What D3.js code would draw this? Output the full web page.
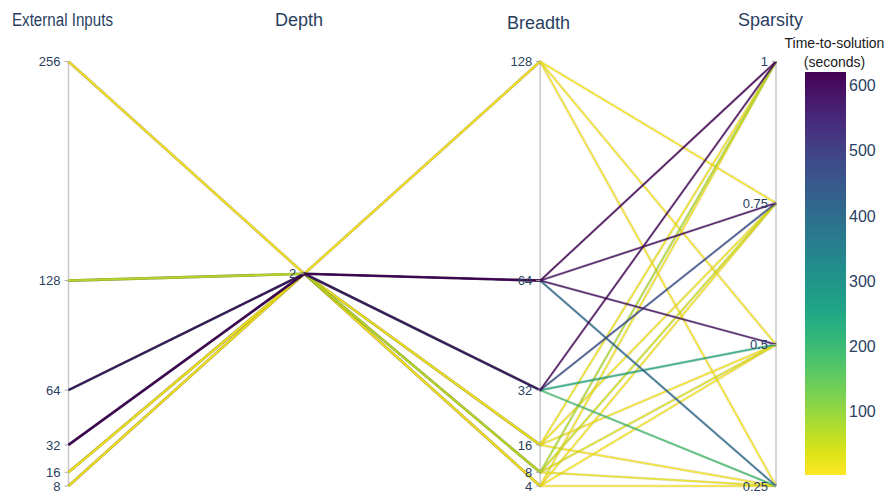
<!DOCTYPE html>
<html>
<head>
<meta charset="utf-8">
<script src="https://cdn.jsdelivr.net/npm/d3@7"></script>
<style>
  html, body { margin: 0; padding: 0; background: #fff; }
  svg { display: block; font-family: "Liberation Sans", Arial, sans-serif; }
</style>
</head>
<body>
<svg id="chart" width="893" height="496"></svg>
<script>
// One row per run: inputs, network shape, sparsity and measured runtime
const extInputs      = [256, 256, 256, 32, 32, 32, 32, 64, 64, 64, 64, 16, 16, 16, 16, 128, 128, 128, 128, 8, 8, 8, 8];
const depth          = [2, 2, 2, 2, 2, 2, 2, 2, 2, 2, 2, 2, 2, 2, 2, 2, 2, 2, 2, 2, 2, 2, 2];
const breadth        = [128, 128, 128, 64, 64, 64, 64, 32, 32, 32, 32, 16, 16, 16, 16, 8, 8, 8, 8, 4, 4, 4, 4];
const sparsity       = [0.75, 0.5, 0.25, 1, 0.75, 0.5, 0.25, 1, 0.75, 0.5, 0.25, 1, 0.75, 0.5, 0.25, 1, 0.75, 0.5, 0.25, 1, 0.75, 0.5, 0.25];
const timeToSolution = [6, 4, 3, 621, 598, 585, 405, 610, 470, 235, 185, 12, 9, 7, 5, 75, 45, 30, 20, 8, 5, 3, 1.5];

// Axis titles and tick labels
const dimTitles     = ["External Inputs", "Depth", "Breadth", "Sparsity"];
const extTicks      = [8, 16, 32, 64, 128, 256];
const depthTicks    = [2];
const breadthTicks  = [4, 8, 16, 32, 64, 128];
const sparsityTicks = [0.25, 0.5, 0.75, 1];
const colorTicks    = [100, 200, 300, 400, 500, 600];
const colorTitle    = ["Time-to-solution", "(seconds)"];

const dimValues = [extInputs, depth, breadth, sparsity];
const dimTicks  = [extTicks, depthTicks, breadthTicks, sparsityTicks];
const titleCenters = [62.5, 299, 538.5, 770.5];
const titleBaselines = [26, 26, 29, 26];

const svg = d3.select("#chart");
const yTop = 61.5, yBottom = 486;
const tickColor = "#2a3f5f";

const x = d3.scalePoint().domain(d3.range(dimTitles.length)).range([68.5, 776]);

const yScales = dimValues.map(vals => {
  let [lo, hi] = d3.extent(vals);
  if (lo === hi) { lo -= 1; hi += 1; }
  return d3.scaleLinear().domain([lo, hi]).range([yBottom, yTop]);
});

const cExtent = d3.extent(timeToSolution);
const cmin = cExtent[0], cmax = cExtent[1];
const color = v => d3.interpolateViridis(1 - (v - cmin) / (cmax - cmin));

// Axis lines (a single-valued dimension gets no line)
dimTitles.forEach((t, i) => {
  const single = d3.min(dimValues[i]) === d3.max(dimValues[i]);
  if (!single) {
    svg.append("line")
      .attr("x1", x(i)).attr("x2", x(i))
      .attr("y1", yTop).attr("y2", yBottom)
      .attr("stroke", "#c8c8c8").attr("stroke-width", 1.5);
  }
});

// Polylines, low runtimes drawn first so the slow runs sit on top
const order = d3.range(timeToSolution.length).sort((a, b) => timeToSolution[a] - timeToSolution[b]);
const line = d3.line().x(d => d[0]).y(d => d[1]);
const lines = svg.append("g");
order.forEach(r => {
  const pts = dimValues.map((vals, i) => [x(i), yScales[i](vals[r])]);
  const c = color(timeToSolution[r]);
  lines.append("path")
    .attr("d", line(pts))
    .attr("fill", "none")
    .attr("stroke", d3.color(c).darker(1.5))
    .attr("stroke-opacity", 0.3)
    .attr("stroke-width", 2.6)
    .attr("stroke-linejoin", "round");
  lines.append("path")
    .attr("d", line(pts))
    .attr("fill", "none")
    .attr("stroke", c)
    .attr("stroke-opacity", 0.85)
    .attr("stroke-width", 1.5)
    .attr("stroke-linejoin", "round");
});

// Ticks, tick labels and titles
dimTitles.forEach((t, i) => {
  const g = svg.append("g");
  dimTicks[i].forEach(v => {
    const y = yScales[i](v);
    g.append("line")
      .attr("x1", x(i) - 4).attr("x2", x(i))
      .attr("y1", y).attr("y2", y)
      .attr("stroke", "#aaa").attr("stroke-width", 1);
    g.append("text")
      .attr("x", x(i) - 8).attr("y", y).attr("dy", "0.36em")
      .attr("text-anchor", "end")
      .attr("font-size", 13).attr("fill", tickColor)
      .text(v);
  });
  const title = g.append("text")
    .attr("x", titleCenters[i]).attr("y", titleBaselines[i])
    .attr("text-anchor", "middle")
    .attr("font-size", 18).attr("fill", tickColor)
    .text(t);
  if (i === 0) title.attr("textLength", 101).attr("lengthAdjust", "spacingAndGlyphs");
});

// Colour bar
const cbX = 805, cbW = 41, cbTop = 72, cbBottom = 475;
const cy = d3.scaleLinear().domain([cmin, cmax]).range([cbBottom, cbTop]);
const grad = svg.append("defs").append("linearGradient")
  .attr("id", "cbgrad").attr("x1", 0).attr("x2", 0).attr("y1", 1).attr("y2", 0);
d3.range(0, 1.0001, 0.05).forEach(s => {
  grad.append("stop").attr("offset", s).attr("stop-color", color(cmin + s * (cmax - cmin)));
});
svg.append("rect")
  .attr("x", cbX).attr("y", cbTop).attr("width", cbW).attr("height", cbBottom - cbTop)
  .attr("fill", "url(#cbgrad)");
colorTicks.forEach(v => {
  svg.append("text")
    .attr("x", cbX + cbW + 3).attr("y", cy(v)).attr("dy", "0.36em")
    .attr("font-size", 16).attr("fill", tickColor)
    .text(v);
});
colorTitle.forEach((t, k) => {
  svg.append("text")
    .attr("x", 834.5).attr("y", 48 + k * 19)
    .attr("text-anchor", "middle")
    .attr("font-size", 14).attr("fill", "#1a1a1a")
    .text(t);
});
</script>
</body>
</html>
